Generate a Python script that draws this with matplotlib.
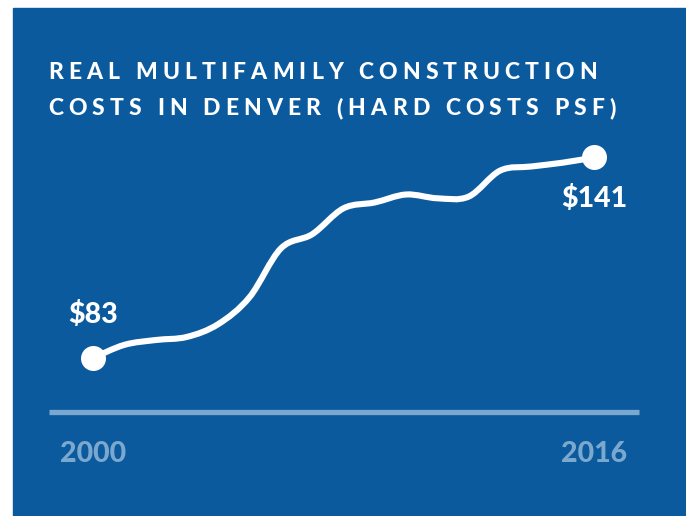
import matplotlib.pyplot as plt
from matplotlib.path import Path
from matplotlib.patches import PathPatch, Rectangle
from matplotlib.font_manager import FontProperties

# Hard construction costs per square foot, Denver multifamily (real $)
years = list(range(2000, 2017))
cost_psf = [83, 86.8, 88.2, 89.1, 92.8, 100.6, 114.7, 118.8, 126.3,
            128.0, 130.3, 129.2, 129.7, 137.2, 138.4, 139.5, 141]
end_labels = ["$83", "$141"]
tick_years = [2000, 2016]
title_lines = ["REAL MULTIFAMILY CONSTRUCTION",
               "COSTS IN DENVER (HARD COSTS PSF)"]

BLUE = "#0b5a9e"
PALE = "#7ba8cf"
W, H = 686, 516


def px(x, y):
    # pixel position (from top-left) -> figure fraction
    return x / W, 1 - y / H


def smooth_path(xs, ys, tension=1 / 6):
    # Catmull-Rom through the points, written as cubic Bezier segments
    verts = [(xs[0], ys[0])]
    codes = [Path.MOVETO]
    n = len(xs)
    for i in range(n - 1):
        x0, y0 = (xs[i - 1], ys[i - 1]) if i > 0 else (xs[i], ys[i])
        x1, y1 = xs[i], ys[i]
        x2, y2 = xs[i + 1], ys[i + 1]
        x3, y3 = (xs[i + 2], ys[i + 2]) if i + 2 < n else (x2, y2)
        c1 = (x1 + (x2 - x0) * tension, y1 + (y2 - y0) * tension)
        c2 = (x2 - (x3 - x1) * tension, y2 - (y3 - y1) * tension)
        verts += [c1, c2, (x2, y2)]
        codes += [Path.CURVE4] * 3
    return Path(verts, codes)


fig = plt.figure(figsize=(W / 100, H / 100), dpi=100)
fig.patch.set_facecolor("white")
fig.patches.append(Rectangle((13 / W, 0), 1 - 13 / W, (H - 8) / H,
                             transform=fig.transFigure, color=BLUE, zorder=-5))

# axes laid out so 2000 -> x=93px, 2016 -> x=594px
left_px, right_px, base_px, top_px = 49, 639, 412.5, 140
ppy = (594 - 93) / 16
ppv = (358 - 157.5) / (141 - 83)
ax = fig.add_axes([left_px / W, 1 - base_px / H,
                   (right_px - left_px) / W, (base_px - top_px) / H])
ax.set_zorder(2)
ax.set_xlim(2000 - (93 - left_px) / ppy, 2016 + (right_px - 594) / ppy)
ax.set_ylim(83 - (base_px - 358) / ppv, 141 + (157.5 - top_px) / ppv)
ax.axis("off")
ax.patch.set_alpha(0)

x0, x1 = ax.get_xlim()
y0 = ax.get_ylim()[0]
ax.plot([x0, x1], [y0, y0], color=PALE, lw=3.8,
        solid_capstyle="butt", clip_on=False)

ax.add_patch(PathPatch(smooth_path(years, cost_psf), fill=False,
                       edgecolor="white", lw=4.4, capstyle="round"))
ax.plot([years[0], years[-1]], [cost_psf[0], cost_psf[-1]], "o",
        color="white", ms=18, mec="none")

num_font = dict(family="Lato", weight="black", size=20.5)
fig.text(*px(93, 323), end_labels[0], color="white", ha="center",
         va="baseline", **num_font)
fig.text(*px(594, 207), end_labels[1], color="white", ha="center",
         va="baseline", **num_font)
for yr, cx in zip(tick_years, [93, 594]):
    fig.text(*px(cx, 462), str(yr), color=PALE, ha="center",
             va="baseline", **num_font)

# letter-spaced title, placed one glyph at a time
fp = FontProperties(family="Lato", weight="black", size=16.5)
renderer = fig.canvas.get_renderer()


def width(s):
    return renderer.get_text_width_height_descent(s, fp, ismath=False)[0]


line_left, line1_right = 48, 597
tracking = (line1_right - line_left - width(title_lines[0])) / (len(title_lines[0]) - 1)
for line, base in zip(title_lines, [79, 115]):
    for i, ch in enumerate(line):
        if ch == " ":
            continue
        x = line_left + width(line[:i + 1]) - width(ch) + i * tracking
        fig.text(*px(x, base), ch, color="white", ha="left",
                 va="baseline", fontproperties=fp)

fig.savefig("out.png", dpi=100, facecolor=fig.get_facecolor())
